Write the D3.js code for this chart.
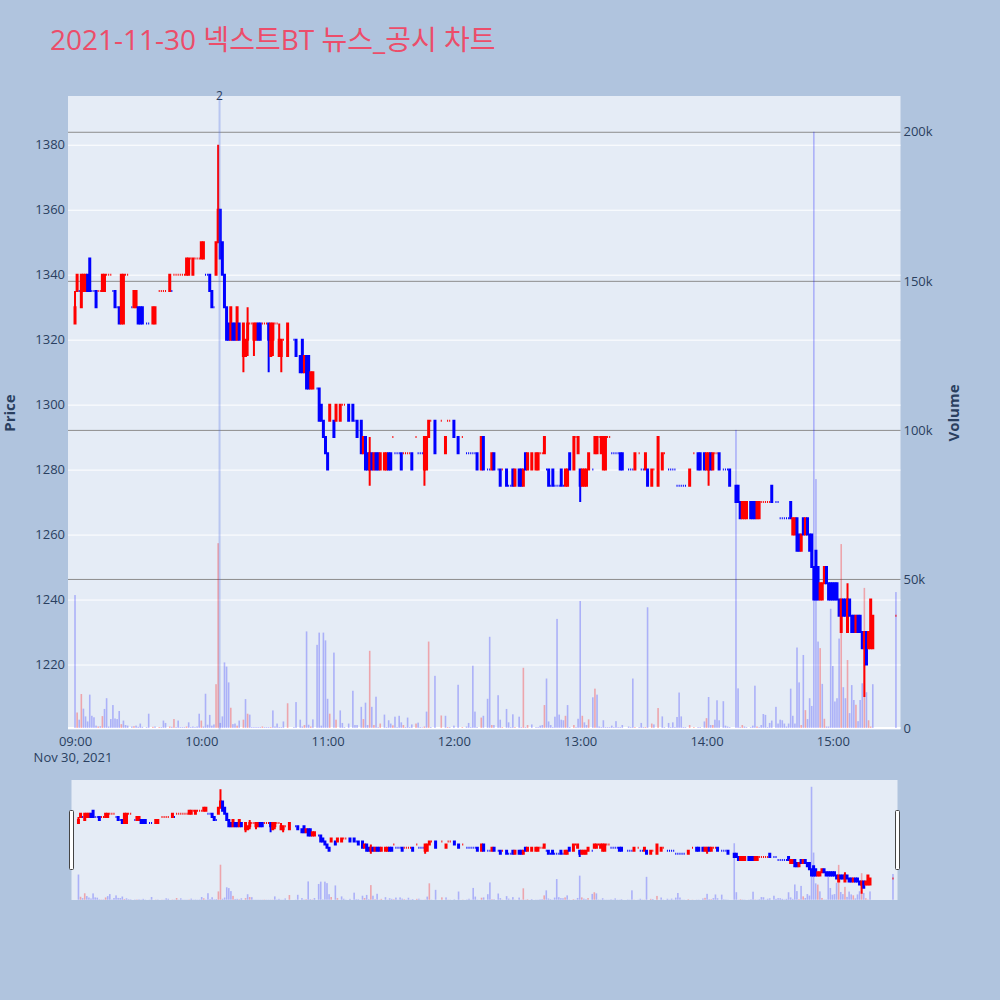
<!DOCTYPE html>
<html><head><meta charset="utf-8">
<script src="https://cdn.jsdelivr.net/npm/d3@7"></script>
<style>body{margin:0;background:#b0c4de;}svg{display:block;}</style>
</head><body><svg id="c" width="1000" height="1000"></svg>
<script>
// ---------------- DATA (1-minute candles, 2021-11-30) ----------------
const chartTitle = "2021-11-30 넥스트BT 뉴스_공시 차트";
const tradeDate = "2021-11-30";
const times = [
"09:00","09:01","09:02","09:03","09:04","09:05","09:06","09:07","09:08","09:09","09:10","09:11","09:12","09:13","09:14","09:15","09:16","09:17","09:18","09:19","09:20","09:21","09:22","09:23","09:24","09:25","09:27","09:28","09:29","09:30","09:31","09:32","09:34","09:35","09:37","09:38","09:40","09:41","09:42","09:43","09:45","09:46","09:47","09:48","09:49","09:50","09:51","09:52","09:53","09:54","09:55","09:56","09:57","09:58","09:59",
"10:00","10:01","10:02","10:03","10:04","10:05","10:06","10:07","10:08","10:09","10:10","10:11","10:12","10:13","10:14","10:15","10:16","10:17","10:18","10:20","10:21","10:22","10:23","10:24","10:25","10:26","10:27","10:28","10:29","10:30","10:31","10:32","10:33","10:34","10:35","10:36","10:37","10:38","10:39","10:41","10:44","10:45","10:47","10:48","10:49","10:50","10:51","10:52","10:53","10:55","10:56","10:57","10:58","10:59",
"11:00","11:01","11:03","11:04","11:06","11:07","11:08","11:10","11:12","11:13","11:14","11:16","11:17","11:18","11:19","11:20","11:21","11:22","11:23","11:24","11:25","11:27","11:28","11:29","11:30","11:31","11:32","11:33","11:34","11:35","11:36","11:37","11:38","11:39","11:40","11:42","11:43","11:44","11:45","11:46","11:47","11:48","11:49","11:51","11:54","11:56","11:57","11:58",
"12:00","12:02","12:04","12:06","12:07","12:08","12:09","12:10","12:11","12:13","12:14","12:16","12:17","12:18","12:19","12:21","12:22","12:23","12:25","12:26","12:27","12:28","12:29","12:31","12:32","12:33","12:34","12:35","12:37","12:39","12:40","12:41","12:42","12:43","12:44","12:45","12:46","12:47","12:48","12:49","12:50","12:51","12:52","12:53","12:54","12:55","12:57","12:58","12:59",
"13:00","13:01","13:02","13:03","13:04","13:06","13:07","13:08","13:09","13:10","13:11","13:12","13:13","13:14","13:15","13:16","13:17","13:18","13:19","13:20","13:23","13:24","13:25","13:26","13:28","13:29","13:30","13:31","13:32","13:34","13:35","13:37","13:39","13:40","13:42","13:43","13:44","13:45","13:46","13:47","13:48","13:49","13:50","13:52","13:54","13:56","13:57","13:59",
"14:00","14:01","14:02","14:03","14:04","14:05","14:06","14:08","14:09","14:10","14:11","14:14","14:15","14:16","14:17","14:18","14:19","14:21","14:22","14:23","14:24","14:25","14:26","14:27","14:28","14:29","14:30","14:31","14:33","14:34","14:35","14:36","14:37","14:38","14:39","14:40","14:41","14:42","14:43","14:44","14:45","14:46","14:47","14:48","14:49","14:50","14:51","14:52","14:53","14:54","14:55","14:56","14:57","14:58","14:59",
"15:00","15:01","15:02","15:03","15:04","15:05","15:06","15:07","15:08","15:09","15:10","15:11","15:12","15:13","15:14","15:15","15:16","15:17","15:18","15:19","15:30"
];
const opens = [
1325,1335,1335,1330,1335,1335,1340,1345,1335,1335,1335,1335,1335,1335,1335,1340,1340,1340,1335,1335,1330,1330,1325,1325,1340,1340,1330,1330,1330,1330,1330,1330,1325,1325,1325,1325,1335,1335,1335,1335,1335,1335,1340,1340,1340,1340,1340,1340,1340,1340,1345,1340,1345,1345,1345,
1345,1345,1340,1340,1340,1335,1330,1340,1350,1360,1350,1340,1330,1325,1320,1325,1325,1320,1325,1315,1315,1320,1325,1325,1320,1320,1325,1325,1325,1325,1325,1325,1315,1320,1325,1325,1315,1315,1320,1315,1320,1320,1315,1320,1310,1315,1315,1305,1305,1305,1305,1300,1295,1290,
1285,1295,1295,1295,1295,1300,1300,1300,1300,1295,1295,1295,1285,1290,1285,1280,1285,1280,1285,1285,1280,1280,1280,1285,1285,1290,1285,1285,1285,1285,1285,1285,1285,1285,1285,1290,1285,1285,1285,1280,1280,1290,1295,1295,1295,1285,1295,1295,
1295,1290,1290,1285,1285,1285,1285,1285,1285,1280,1290,1280,1280,1280,1285,1280,1280,1280,1280,1275,1275,1280,1275,1280,1280,1275,1285,1280,1280,1280,1280,1285,1285,1285,1280,1280,1275,1280,1275,1275,1275,1280,1275,1275,1275,1285,1280,1290,1285,
1280,1275,1275,1275,1280,1280,1285,1285,1290,1285,1280,1280,1290,1290,1285,1285,1285,1285,1285,1285,1280,1280,1280,1280,1285,1280,1280,1280,1280,1275,1280,1275,1280,1285,1280,1280,1280,1280,1275,1275,1275,1275,1275,1275,1285,1285,1285,1285,
1280,1280,1285,1280,1285,1285,1285,1280,1280,1280,1280,1275,1275,1270,1265,1265,1265,1270,1270,1270,1265,1265,1270,1270,1270,1270,1270,1275,1270,1270,1265,1265,1265,1265,1265,1270,1260,1260,1265,1260,1255,1265,1260,1265,1260,1260,1250,1255,1250,1240,1240,1245,1250,1245,1245,
1245,1245,1245,1240,1230,1240,1240,1230,1240,1235,1235,1230,1235,1235,1230,1225,1230,1225,1225,1225,1235
];
const highs = [
1335,1340,1335,1340,1340,1340,1340,1345,1335,1335,1335,1335,1335,1340,1340,1340,1340,1340,1335,1335,1330,1330,1340,1340,1340,1340,1330,1335,1335,1330,1330,1330,1325,1325,1330,1330,1335,1335,1335,1335,1340,1335,1340,1340,1340,1340,1340,1340,1345,1345,1345,1345,1345,1345,1345,
1350,1350,1340,1340,1340,1335,1330,1350,1380,1360,1350,1340,1330,1325,1330,1325,1325,1330,1325,1325,1320,1330,1325,1325,1325,1325,1325,1325,1325,1325,1325,1325,1325,1325,1325,1325,1325,1320,1320,1325,1320,1320,1315,1320,1315,1315,1315,1310,1310,1305,1305,1300,1295,1290,
1285,1300,1295,1300,1300,1300,1300,1300,1300,1295,1295,1295,1290,1290,1285,1290,1285,1285,1285,1285,1285,1285,1285,1285,1285,1290,1285,1285,1285,1285,1285,1285,1285,1285,1285,1290,1285,1285,1285,1290,1290,1295,1295,1295,1295,1290,1295,1295,
1295,1290,1290,1285,1285,1285,1285,1285,1285,1290,1290,1280,1280,1285,1285,1280,1280,1280,1280,1275,1275,1280,1280,1280,1280,1280,1285,1285,1285,1285,1285,1285,1285,1290,1280,1280,1275,1280,1275,1275,1275,1280,1275,1280,1280,1285,1290,1290,1290,
1280,1280,1280,1280,1285,1280,1290,1290,1290,1290,1290,1290,1290,1290,1285,1285,1285,1285,1285,1285,1280,1280,1280,1285,1285,1280,1280,1285,1280,1280,1280,1290,1285,1285,1280,1280,1280,1280,1275,1275,1275,1275,1275,1280,1285,1285,1285,1285,
1285,1285,1285,1285,1285,1285,1285,1280,1280,1280,1280,1275,1275,1270,1270,1270,1270,1270,1270,1270,1270,1270,1270,1270,1270,1270,1270,1275,1270,1270,1265,1265,1265,1265,1265,1270,1265,1265,1265,1260,1260,1265,1265,1265,1260,1260,1250,1255,1250,1245,1245,1250,1250,1245,1245,
1245,1245,1245,1240,1240,1240,1240,1245,1240,1235,1235,1235,1235,1235,1230,1230,1230,1230,1240,1235,1235
];
const lows = [
1325,1335,1335,1330,1335,1335,1335,1335,1335,1335,1330,1335,1335,1335,1335,1340,1340,1340,1335,1330,1330,1325,1325,1325,1340,1340,1330,1330,1330,1325,1325,1325,1325,1325,1325,1325,1335,1335,1335,1335,1335,1335,1340,1340,1340,1340,1340,1340,1340,1340,1345,1340,1345,1345,1345,
1345,1345,1340,1340,1335,1330,1330,1340,1350,1345,1340,1330,1320,1320,1320,1320,1320,1320,1320,1310,1315,1315,1325,1325,1315,1320,1320,1320,1325,1325,1325,1310,1315,1315,1325,1325,1315,1310,1320,1315,1320,1315,1310,1310,1310,1305,1305,1305,1305,1305,1295,1295,1290,1285,
1280,1295,1290,1295,1295,1300,1300,1295,1295,1295,1290,1285,1285,1280,1280,1275,1280,1280,1280,1280,1280,1280,1280,1280,1280,1290,1285,1285,1285,1280,1285,1285,1285,1285,1280,1290,1285,1285,1285,1275,1280,1290,1295,1285,1295,1285,1295,1295,
1290,1285,1290,1285,1285,1285,1285,1285,1280,1280,1280,1280,1280,1280,1280,1280,1275,1280,1275,1275,1275,1275,1275,1275,1275,1275,1280,1280,1280,1280,1280,1285,1285,1285,1280,1275,1275,1275,1275,1275,1275,1275,1275,1275,1275,1280,1280,1290,1285,
1270,1275,1275,1275,1280,1280,1285,1285,1290,1285,1280,1280,1290,1290,1285,1285,1285,1285,1280,1280,1280,1280,1280,1280,1285,1280,1280,1280,1275,1275,1280,1275,1280,1285,1280,1280,1280,1280,1275,1275,1275,1275,1275,1275,1285,1280,1280,1280,
1280,1275,1280,1280,1285,1285,1280,1280,1280,1280,1275,1270,1270,1265,1265,1265,1265,1265,1265,1265,1265,1265,1270,1270,1270,1270,1270,1270,1270,1270,1265,1265,1265,1265,1265,1265,1260,1260,1255,1255,1255,1260,1260,1260,1255,1250,1240,1240,1240,1240,1240,1245,1245,1240,1240,
1240,1240,1240,1235,1230,1235,1235,1230,1235,1230,1230,1230,1230,1230,1225,1210,1220,1225,1225,1225,1235
];
const closes = [
1330,1340,1335,1340,1340,1340,1335,1335,1335,1335,1330,1335,1335,1340,1340,1340,1340,1340,1335,1330,1330,1325,1340,1340,1340,1340,1330,1335,1335,1325,1325,1325,1325,1325,1330,1330,1335,1335,1335,1335,1340,1335,1340,1340,1340,1340,1340,1340,1345,1345,1345,1345,1345,1345,1345,
1350,1350,1340,1340,1335,1330,1330,1350,1360,1345,1340,1330,1320,1320,1330,1320,1320,1330,1320,1325,1320,1325,1325,1325,1325,1325,1320,1320,1325,1325,1325,1320,1325,1325,1325,1325,1320,1320,1320,1325,1320,1315,1310,1310,1315,1305,1305,1310,1310,1305,1295,1295,1290,1285,
1280,1300,1290,1300,1300,1300,1300,1295,1295,1295,1290,1285,1290,1280,1280,1285,1280,1285,1280,1280,1285,1285,1285,1280,1280,1290,1285,1285,1285,1280,1285,1285,1285,1285,1280,1290,1285,1285,1285,1290,1290,1295,1295,1285,1295,1290,1295,1295,
1290,1285,1290,1285,1285,1285,1285,1285,1280,1290,1280,1280,1280,1285,1280,1280,1275,1280,1275,1275,1275,1275,1280,1275,1275,1280,1280,1285,1285,1285,1285,1285,1285,1290,1280,1275,1275,1275,1275,1275,1275,1275,1275,1280,1280,1280,1290,1290,1290,
1275,1280,1280,1280,1285,1280,1290,1290,1290,1290,1290,1290,1290,1290,1285,1285,1285,1285,1280,1280,1280,1280,1280,1285,1285,1280,1280,1285,1275,1280,1280,1290,1285,1285,1280,1280,1280,1280,1275,1275,1275,1275,1275,1280,1285,1280,1280,1280,
1285,1285,1280,1285,1285,1285,1280,1280,1280,1280,1275,1270,1270,1265,1270,1270,1270,1265,1265,1265,1270,1270,1270,1270,1270,1270,1270,1270,1270,1270,1265,1265,1265,1265,1265,1265,1265,1265,1255,1255,1260,1260,1265,1260,1255,1250,1240,1240,1240,1245,1245,1250,1245,1240,1240,
1240,1240,1240,1235,1240,1235,1235,1240,1235,1230,1230,1235,1230,1230,1225,1230,1220,1230,1240,1235,1235
];
const volumes = [
44600,5200,2800,11400,6500,3900,2200,11200,4100,3600,800,500,600,4000,6400,10000,500,3000,7700,3200,3000,5700,1300,2500,1000,800,500,600,800,400,1500,400,300,4800,400,500,300,300,2500,1700,500,400,3000,300,2500,300,300,300,500,1900,300,500,300,500,4800,
2500,500,11500,1100,4400,800,1200,14700,62000,1700,3900,22000,20600,15300,6800,1300,1500,800,2500,2800,9700,4800,4500,300,300,300,300,300,500,300,300,300,300,5900,500,1500,300,300,2200,8300,300,8700,2800,500,1000,32400,1100,500,2900,27900,32000,800,32000,29400,
9800,4800,25300,2800,5900,1700,300,1500,12500,1000,1000,7100,3000,8500,1000,25900,7100,1000,10500,300,1500,4500,300,2600,1500,900,3800,300,4100,1900,1000,300,3500,300,1200,1500,1800,300,200,500,5500,29000,300,17500,4200,4100,300,300,
800,14500,300,500,1700,300,20900,5500,300,3500,4100,9800,30600,1000,1000,11000,2800,300,6400,1900,300,4600,300,3800,300,20200,300,1000,1200,300,300,800,1000,7700,16600,2200,1000,300,3800,36600,4500,2800,2600,4100,7700,300,1000,300,3100,
42600,4100,1900,1000,2900,10300,13200,11200,500,300,2600,300,300,300,800,300,2300,300,300,1000,500,300,16600,300,300,1700,300,300,40500,1500,1200,6700,3900,300,1700,300,1900,300,3700,11900,3900,300,300,1000,300,300,300,2200,
3300,10400,1000,1000,2800,9300,2600,9000,800,500,300,100000,13300,300,1000,500,300,300,800,14200,500,300,1000,4700,4400,300,1700,2500,7100,1500,2800,2600,1500,500,1500,13200,4100,1500,27000,15300,1000,24500,6000,3000,10000,7400,200000,83500,29000,26800,14800,3100,500,500,40000,
20800,8900,10000,30000,61700,13700,10000,22800,5000,14400,9400,7800,2300,9400,15000,47000,12000,2600,500,14700,45600
];
const priceTicks = [1220,1240,1260,1280,1300,1320,1340,1360,1380];
const volumeTicks = [0,50000,100000,150000,200000];
const volumeTickLabels = ["0","50k","100k","150k","200k"];
const timeTicks = ["09:00","10:00","11:00","12:00","13:00","14:00","15:00"];
const newsTimes = ["10:08:40"];
const newsLabels = ["2"];

// ---------------- CHART ----------------
if (![opens,highs,lows,closes,volumes].every(a => a.length === times.length)) console.error("length mismatch");
const parseT = d3.timeParse("%Y-%m-%d %H:%M");
const parseS = d3.timeParse("%Y-%m-%d %H:%M:%S");
let inc = true, cPrev = null;
const rows = times.map((t, i) => {
  const o = opens[i], c = closes[i];
  if (c === o) { if (cPrev !== null && c !== cPrev) inc = c > cPrev; }
  else inc = c > o;
  const volUp = cPrev !== null && c > cPrev;   // volume coloured by change vs previous close
  cPrev = c;
  return {t: parseT(tradeDate + " " + t), o, h: highs[i], l: lows[i], c, v: volumes[i], inc, volUp};
});

const svg = d3.select("#c");
svg.append("rect").attr("width",1000).attr("height",1000).attr("fill","#b0c4de");
const FONT = "'Open Sans', 'Noto Sans CJK KR', sans-serif";
const AX = "#2a3f5f";
const RED = "#ff0000", BLUE = "#0000ff";
const VRED = "rgba(255,0,0,0.3)", VBLUE = "rgba(0,0,255,0.25)";

const P = {l:68, r:900.5, t:96, b:729.5};
const xDomain = [parseS(tradeDate+" 08:56:40"), parseS(tradeDate+" 15:32:10")];
const x = d3.scaleTime().domain(xDomain).range([P.l, P.r]);
const yP = d3.scaleLinear().domain([1200,1395]).range([P.b, P.t]);
const yV = d3.scaleLinear().domain([-500,212000]).range([P.b, P.t]);

// title
svg.append("text").attr("x",50).attr("y",50).attr("font-family",FONT).attr("font-size",28)
  .attr("fill","#ec4d6a").text(chartTitle);

// plot background
svg.append("rect").attr("x",P.l).attr("y",P.t).attr("width",P.r-P.l).attr("height",P.b-P.t).attr("fill","#e5ecf6");

// price gridlines (white)
const gGrid = svg.append("g").attr("transform",`translate(${P.l},0)`)
  .call(d3.axisLeft(yP).tickValues(priceTicks).tickSize(-(P.r-P.l)).tickFormat(""));
gGrid.select(".domain").remove();
gGrid.selectAll("line").attr("stroke","#ffffff").attr("stroke-width",1);
// volume gridlines (grey)
const gGrid2 = svg.append("g").attr("transform",`translate(${P.l},0)`)
  .call(d3.axisLeft(yV).tickValues(volumeTicks.filter(v=>v>0)).tickSize(-(P.r-P.l)).tickFormat(""));
gGrid2.select(".domain").remove();
gGrid2.selectAll("line").attr("stroke","#8c8c8c").attr("stroke-width",1);
// volume zero line
svg.append("line").attr("x1",P.l).attr("x2",P.r).attr("y1",yV(0)).attr("y2",yV(0)).attr("stroke","#fff").attr("stroke-width",2);

// clip
const defs = svg.append("defs");
defs.append("clipPath").attr("id","clipMain").append("rect").attr("x",P.l).attr("y",P.t).attr("width",P.r-P.l).attr("height",P.b-P.t);

function drawSeries(g, xs, yp, yv, bw) {
  g.selectAll("rect.vol").data(rows).join("rect").attr("class","vol")
    .attr("x", d => xs(d.t) - bw/2).attr("width", bw)
    .attr("y", d => yv(d.v)).attr("height", d => Math.max(0, yv(0) - yv(d.v)))
    .attr("fill", d => d.volUp ? VRED : VBLUE);
  g.selectAll("path.candle").data(rows).join("path").attr("class","candle")
    .attr("d", d => {
      const cx = xs(d.t), x0 = cx - 0.5, x1 = cx + 0.5;
      const yo = yp(d.o), yc = yp(d.c);
      return `M${x0},${yo}H${x1}V${yc}H${x0}Z M${cx},${Math.min(yo,yc)}V${yp(d.h)} M${cx},${Math.max(yo,yc)}V${yp(d.l)}`;
    })
    .attr("fill", d => d.inc ? RED : BLUE)
    .attr("stroke", d => d.inc ? RED : BLUE)
    .attr("stroke-width", 2);
}
const gMain = svg.append("g").attr("clip-path","url(#clipMain)");
drawSeries(gMain, x, yP, yV, 1.6);

// news annotation lines
newsTimes.forEach((nt, i) => {
  const xx = x(parseS(tradeDate + " " + nt));
  svg.append("line").attr("x1",xx).attr("x2",xx).attr("y1",P.t).attr("y2",P.b)
    .attr("stroke","rgba(80,110,230,0.3)").attr("stroke-width",2);
  svg.append("text").attr("x",xx).attr("y",P.t+4).attr("text-anchor","middle")
    .attr("font-family",FONT).attr("font-size",12).attr("fill",AX).text(newsLabels[i]);
});

// axes labels
const gYL = svg.append("g").attr("transform",`translate(${P.l},0)`)
  .call(d3.axisLeft(yP).tickValues(priceTicks).tickSize(0).tickPadding(3).tickFormat(d3.format("d")));
gYL.select(".domain").remove();
gYL.selectAll("text").attr("font-family",FONT).attr("font-size",13).attr("fill",AX);

const gYR = svg.append("g").attr("transform",`translate(${P.r},0)`)
  .call(d3.axisRight(yV).tickValues(volumeTicks).tickSize(0).tickPadding(3).tickFormat((d,i)=>volumeTickLabels[i]));
gYR.select(".domain").remove();
gYR.selectAll("text").attr("font-family",FONT).attr("font-size",13).attr("fill",AX);

const gX = svg.append("g").attr("transform",`translate(0,${P.b})`)
  .call(d3.axisBottom(x).tickValues(timeTicks.map(t=>parseT(tradeDate+" "+t))).tickSize(0).tickPadding(7).tickFormat(d3.timeFormat("%H:%M")));
gX.select(".domain").remove();
gX.selectAll("text").attr("font-family",FONT).attr("font-size",13).attr("fill",AX);
svg.append("text").attr("x",x(parseT(tradeDate+" 09:00"))-2).attr("y",762).attr("text-anchor","middle")
  .attr("font-family",FONT).attr("font-size",13).attr("fill",AX).text(d3.timeFormat("%b %-d, %Y")(parseT(tradeDate+" 09:00")));

svg.append("text").attr("transform","translate(15,413) rotate(-90)").attr("text-anchor","middle")
  .attr("font-family",FONT).attr("font-size",15).attr("font-weight","bold").attr("fill",AX).text("Price");
svg.append("text").attr("transform","translate(959,413) rotate(-90)").attr("text-anchor","middle")
  .attr("font-family",FONT).attr("font-size",15).attr("font-weight","bold").attr("fill",AX).text("Volume");

// ---------------- RANGE SLIDER ----------------
const S = {l:71.5, r:897.5, t:780, b:900};
const xs2 = d3.scaleTime().domain(xDomain).range([S.l, S.r]);
const yP2 = d3.scaleLinear().domain([1200,1395]).range([S.b, S.t]);
const yV2 = d3.scaleLinear().domain([-500,212000]).range([S.b, S.t]);
svg.append("rect").attr("x",S.l).attr("y",S.t).attr("width",S.r-S.l).attr("height",S.b-S.t).attr("fill","#e5ecf6");
defs.append("clipPath").attr("id","clipSl").append("rect").attr("x",S.l).attr("y",S.t).attr("width",S.r-S.l).attr("height",S.b-S.t);
const gSl = svg.append("g").attr("clip-path","url(#clipSl)");
drawSeries(gSl, xs2, yP2, yV2, 1.6);
[S.l, S.r].forEach(hx => {
  svg.append("rect").attr("x",hx-2).attr("y",810.5).attr("width",4).attr("height",59)
    .attr("fill","#fff").attr("stroke","#444").attr("stroke-width",1).attr("rx",1);
});
</script>
</body></html>
